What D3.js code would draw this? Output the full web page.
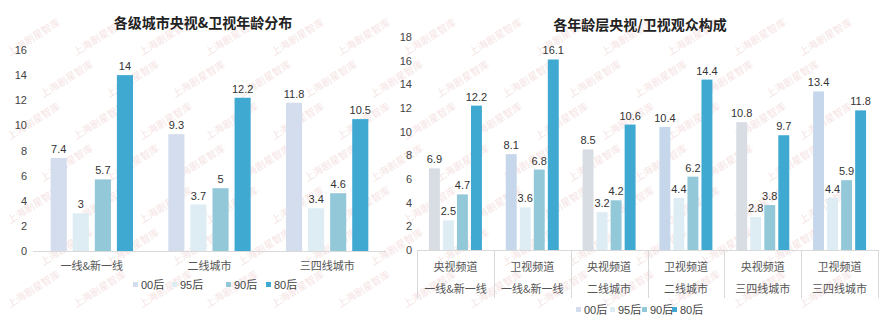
<!DOCTYPE html>
<html>
<head>
<meta charset="utf-8">
<script src="https://cdn.jsdelivr.net/npm/d3@7"></script>
<style>
  body { margin:0; background:#fff; }
  svg text { font-family: "Liberation Sans", Arial, "Noto Sans CJK SC", sans-serif; }
</style>
</head>
<body>
<svg id="chart" width="883" height="322"></svg>
<script>
// ---- data ----
var seriesNames = ["00后", "95后", "90后", "80后"];
var seriesColors = ["#d3ddee", "#ddedf3", "#93c8d9", "#3fa9d2"];

// left chart
var cityCats = ["一线&新一线", "二线城市", "三四线城市"];
var cityVals = [
  [7.4, 3, 5.7, 14],
  [9.3, 3.7, 5, 12.2],
  [11.8, 3.4, 4.6, 10.5]
];
var leftTicks = [0, 2, 4, 6, 8, 10, 12, 14, 16];

// right chart
var chanCats = ["央视频道", "卫视频道", "央视频道", "卫视频道", "央视频道", "卫视频道"];
var chanCity = ["一线&新一线", "一线&新一线", "二线城市", "二线城市", "三四线城市", "三四线城市"];
var chanVals = [
  [6.9, 2.5, 4.7, 12.2],
  [8.1, 3.6, 6.8, 16.1],
  [8.5, 3.2, 4.2, 10.6],
  [10.4, 4.4, 6.2, 14.4],
  [10.8, 2.8, 3.8, 9.7],
  [13.4, 4.4, 5.9, 11.8]
];
var chan00Colors = {"央视频道": "#d8dde3", "卫视频道": "#c6d7ec"};
var rightTicks = [0, 2, 4, 6, 8, 10, 12, 14, 16, 18];

var svg = d3.select("#chart");

// ---- watermark (kept inside the frame) ----
var wm = svg.append("g").attr("class", "watermark");
for (var wy = 56; wy <= 316; wy += 42) {
  for (var wx = 10; wx <= 820; wx += 66) {
    var off = (Math.round((wy - 56) / 42) % 2) * 33;
    if (wx + off > 820) continue;
    wm.append("text")
      .attr("transform", "translate(" + (wx + off) + "," + wy + ") rotate(-32)")
      .attr("font-size", 10)
      .attr("fill", "#c0504d")
      .attr("opacity", 0.16)
      .style("font-family", "'Noto Sans CJK SC', serif")
      .text("上海剧星智库");
  }
}

function drawChart(opt) {
  var g = svg.append("g");
  var y = d3.scaleLinear().domain(opt.domain).range([opt.y0, opt.y1]);
  var x0 = d3.scaleBand().domain(d3.range(opt.cats.length)).range([opt.xl, opt.xr]).paddingInner(0).paddingOuter(0);
  var x1 = d3.scaleBand().domain(d3.range(seriesNames.length))
    .range([0, x0.bandwidth()]).paddingInner(opt.inner).paddingOuter(opt.outer);

  // y axis labels
  var ax = d3.axisLeft(y).tickValues(opt.ticks).tickSize(0).tickPadding(0);
  var axg = g.append("g").attr("transform", "translate(" + opt.axisX + ",0)").call(ax);
  axg.select(".domain").remove();
  axg.selectAll("text").attr("font-size", 11).attr("fill", "#444")
    .style("font-family", "'Liberation Sans', Arial, sans-serif");

  // baseline
  g.append("line").attr("x1", opt.xl).attr("x2", opt.xr)
    .attr("y1", y(0) + 0.5).attr("y2", y(0) + 0.5).attr("stroke", "#d9d9d9");

  // bars
  var groups = g.selectAll(".grp").data(opt.vals).enter().append("g")
    .attr("transform", function(d, i) { return "translate(" + x0(i) + ",0)"; });
  groups.selectAll("rect").data(function(d, i) { return d.map(function(v, j) { return {v: v, j: j, i: i}; }); })
    .enter().append("rect")
    .attr("x", function(d) { return x1(d.j); })
    .attr("width", x1.bandwidth())
    .attr("y", function(d) { return y(d.v); })
    .attr("height", function(d) { return y(0) - y(d.v); })
    .attr("fill", function(d) { return opt.color(d); });
  groups.selectAll(".val").data(function(d, i) { return d.map(function(v, j) { return {v: v, j: j}; }); })
    .enter().append("text")
    .attr("x", function(d) { return x1(d.j) + x1.bandwidth() / 2; })
    .attr("y", function(d) { return y(d.v) - 5; })
    .attr("text-anchor", "middle")
    .attr("font-size", 11).attr("fill", "#333")
    .text(function(d) { return d.v; });

  // title
  g.append("text").attr("x", opt.titleX).attr("y", opt.titleY)
    .attr("text-anchor", "middle").attr("font-size", 14).attr("font-weight", "bold")
    .attr("fill", "#222")
    .style("font-family", "'Noto Sans CJK SC', sans-serif")
    .text(opt.title);

  return {g: g, x0: x0, y: y};
}

// ---- left chart ----
var L = drawChart({
  cats: cityCats, vals: cityVals, domain: [0, 16], ticks: leftTicks,
  y0: 251, y1: 50, xl: 33, xr: 386, axisX: 27, inner: 0.27, outer: 0.8,
  color: function(d) { return seriesColors[d.j]; },
  title: "各级城市央视&卫视年龄分布", titleX: 203, titleY: 28
});
L.g.selectAll(".cat").data(cityCats).enter().append("text")
  .attr("x", function(d, i) { return L.x0(i) + L.x0.bandwidth() / 2; })
  .attr("y", 270).attr("text-anchor", "middle")
  .attr("font-size", 11).attr("fill", "#555")
  .style("font-family", "'Noto Sans CJK SC', sans-serif")
  .text(function(d) { return d; });

// ---- right chart ----
var R = drawChart({
  cats: chanCats, vals: chanVals, domain: [0, 18], ticks: rightTicks,
  y0: 250, y1: 37, xl: 417, xr: 878, axisX: 412, inner: 0.22, outer: 0.85,
  color: function(d) { return d.j === 0 ? chan00Colors[chanCats[d.i]] : seriesColors[d.j]; },
  title: "各年龄层央视/卫视观众构成", titleX: 640, titleY: 30
});
R.g.selectAll(".sep").data(d3.range(chanCats.length + 1)).enter().append("line")
  .attr("x1", function(i) { return Math.round(417 + i * R.x0.bandwidth()) + 0.5; })
  .attr("x2", function(i) { return Math.round(417 + i * R.x0.bandwidth()) + 0.5; })
  .attr("y1", 250).attr("y2", 298).attr("stroke", "#d9d9d9");
R.g.selectAll(".cat1").data(chanCats).enter().append("text")
  .attr("x", function(d, i) { return R.x0(i) + R.x0.bandwidth() / 2; })
  .attr("y", 271).attr("text-anchor", "middle")
  .attr("font-size", 11).attr("fill", "#555")
  .style("font-family", "'Noto Sans CJK SC', sans-serif")
  .text(function(d) { return d; });
R.g.selectAll(".cat2").data(chanCity).enter().append("text")
  .attr("x", function(d, i) { return R.x0(i) + R.x0.bandwidth() / 2; })
  .attr("y", 293).attr("text-anchor", "middle")
  .attr("font-size", 11).attr("fill", "#555")
  .style("font-family", "'Noto Sans CJK SC', sans-serif")
  .text(function(d) { return d; });

// ---- legends ----
function legend(xs, ly) {
  var lg = svg.append("g");
  seriesNames.forEach(function(n, j) {
    lg.append("rect").attr("x", xs[j] - 8).attr("y", ly - 7).attr("width", 5).attr("height", 5)
      .attr("fill", seriesColors[j]);
    lg.append("text").attr("x", xs[j]).attr("y", ly)
      .attr("font-size", 11).attr("fill", "#444").text(n);
  });
}
legend([141, 180, 234, 274], 289);
legend([584, 618, 650, 680], 314);
</script>
</body>
</html>
